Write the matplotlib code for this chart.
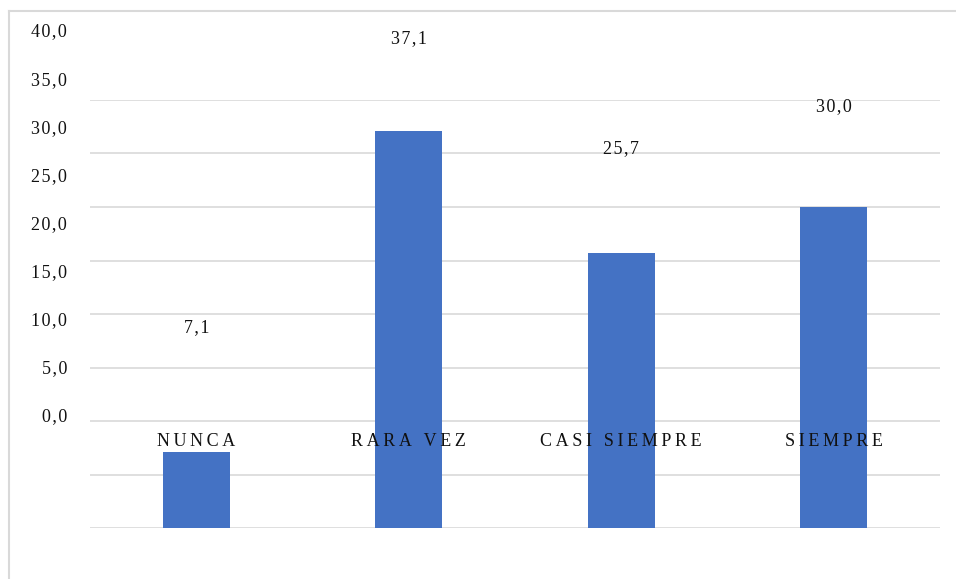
import matplotlib.pyplot as plt
import matplotlib.transforms as mtransforms
from matplotlib.lines import Line2D

# frequency percentages per answer
categorias = ['NUNCA', 'RARA VEZ', 'CASI SIEMPRE', 'SIEMPRE']
porcentajes = [7.1, 37.1, 25.7, 30.0]
ticks = [0, 5, 10, 15, 20, 25, 30, 35, 40]

plt.rcParams['font.family'] = ['Liberation Serif', 'DejaVu Serif']
color_barra = '#4472C4'
color_texto = '#111111'

W, H = 956, 579
fig = plt.figure(figsize=(W / 100, H / 100), dpi=100)


def fmt(v):
    return f'{v:.1f}'.replace('.', ',')


def espaciar(s, sep='\u2009'):
    return sep.join(s)


# bars and gridlines
ax = fig.add_axes([90 / W, 1 - 528 / H, 850 / W, 428 / H])
x = range(len(categorias))
ax.bar(x, porcentajes, width=0.315, color=color_barra, zorder=2)
ax.set_xlim(-0.5, 3.5)
ax.set_ylim(0, 40)
ax.set_yticks(ticks)
ax.set_xticks([])
ax.yaxis.grid(True, color='#D9D9D9', lw=1.2, zorder=0)
ax.tick_params(axis='y', length=0, labelleft=False)
for s in ax.spines.values():
    s.set_visible(False)

# overlay axes holding the text labels
ax2 = fig.add_axes([90 / W, 1 - 417 / H, 850 / W, 385 / H])
ax2.set_xlim(-0.5, 3.5)
ax2.set_ylim(0, 40)
ax2.axis('off')
ax2.patch.set_visible(False)

trans = mtransforms.blended_transform_factory(fig.transFigure, ax2.transData)
for t in ticks:
    ax2.text(67 / W, t, espaciar(fmt(t), '\u200a'), transform=trans, ha='right',
             va='center', fontsize=13, color=color_texto)

for i, v in enumerate(porcentajes):
    ax2.text(i, v + 2.2, espaciar(fmt(v), '\u200a'), ha='center', va='center',
             fontsize=13, color=color_texto, clip_on=False)

for i, c in enumerate(categorias):
    ax2.text(i, -2.5, espaciar(c), ha='center', va='center',
             fontsize=13, color=color_texto, clip_on=False, zorder=5)

# light frame around the chart area
fig.add_artist(Line2D([9 / W, 9 / W], [0, 1 - 11 / H], transform=fig.transFigure,
                      color='#D9D9D9', lw=1.5))
fig.add_artist(Line2D([9 / W, 1], [1 - 11 / H, 1 - 11 / H], transform=fig.transFigure,
                      color='#D9D9D9', lw=1.5))

fig.savefig('out.png', dpi=100)
